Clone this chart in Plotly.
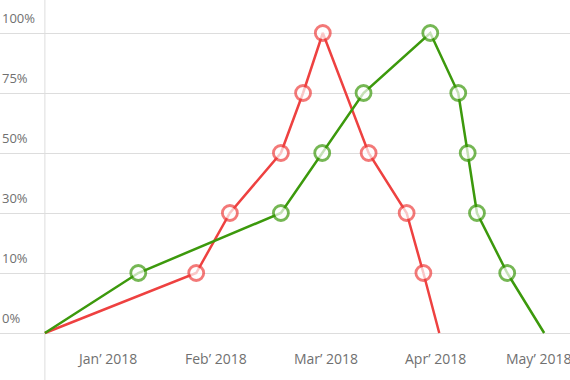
import plotly.graph_objects as go

# ---- data ----
y_levels = ["0%", "10%", "30%", "50%", "75%", "100%"]
month_ticks = ["2018-01-01", "2018-01-31 08:00", "2018-03-03 00:00", "2018-04-02 14:00", "2018-05-01"]
month_labels = ["Jan’ 2018", "Feb’ 2018", "Mar’ 2018", "Apr’ 2018", "May’ 2018"]

red_x = ["2017-12-14 17:00", "2018-01-25 20:00", "2018-02-04 05:00", "2018-02-18 10:00",
         "2018-02-24 14:00", "2018-03-02 02:00", "2018-03-14 20:00", "2018-03-25 10:00",
         "2018-03-30 02:00", "2018-04-03 12:00"]
red_y = ["0%", "10%", "30%", "50%", "75%", "100%", "50%", "30%", "10%", "0%"]

green_x = ["2017-12-14 17:00", "2018-01-09 17:00", "2018-02-18 10:00", "2018-03-01 22:00",
           "2018-03-13 10:00", "2018-04-01 00:00", "2018-04-08 19:00", "2018-04-11 10:00",
           "2018-04-14 00:00", "2018-04-22 10:00", "2018-05-02 17:00"]
green_y = ["0%", "10%", "30%", "50%", "75%", "100%", "75%", "50%", "30%", "10%", "0%"]

RED = "#EE4140"
GREEN = "#3C990C"
GRID = "#DDDDDD"
TXT = "#707070"
FONT = "Open Sans, Lato, sans-serif"

def sizes(n):
    return [0] + [15] * (n - 2) + [0]

fig = go.Figure()
for xs, ys, col in [(red_x, red_y, RED), (green_x, green_y, GREEN)]:
    fig.add_trace(go.Scatter(
        x=xs, y=ys, mode="lines+markers",
        line=dict(color=col, width=2.5),
        marker=dict(size=sizes(len(xs)), color="white", line=dict(color=col, width=2.8)),
        cliponaxis=False, showlegend=False, hoverinfo="skip",
    ))

# axis origin vertical line
fig.add_shape(type="line", xref="x", yref="paper", x0=red_x[0], x1=red_x[0], y0=0, y1=1,
              line=dict(color=GRID, width=1), layer="below")

annotations = []
for i, lab in enumerate(y_levels):
    annotations.append(dict(x=0, xref="paper", y=i + 0.25, yref="y", text=lab,
                            showarrow=False, xanchor="left", yanchor="middle",
                            font=dict(size=13, color=TXT, family=FONT)))
for t, lab in zip(month_ticks, month_labels):
    annotations.append(dict(x=t, xref="x", y=-0.42, yref="y", text=lab,
                            showarrow=False, xanchor="center", yanchor="middle",
                            font=dict(size=14, color=TXT, family=FONT)))

fig.update_layout(
    width=570, height=380,
    margin=dict(l=0, r=0, t=0, b=0),
    paper_bgcolor="white", plot_bgcolor="white",
    xaxis=dict(type="date", range=["2017-12-02 05:00", "2018-05-09 21:36"],
               showgrid=False, zeroline=False, showticklabels=False, showline=False),
    yaxis=dict(type="category", categoryorder="array", categoryarray=y_levels,
               range=[-0.7833, 5.55], showgrid=True, gridcolor=GRID, gridwidth=1,
               zeroline=False, showticklabels=False, showline=False),
    annotations=annotations,
)
fig.write_html("out.html", config={"displayModeBar": False, "staticPlot": True},
               post_script="document.body.style.margin='0';document.body.style.overflow='hidden';")
